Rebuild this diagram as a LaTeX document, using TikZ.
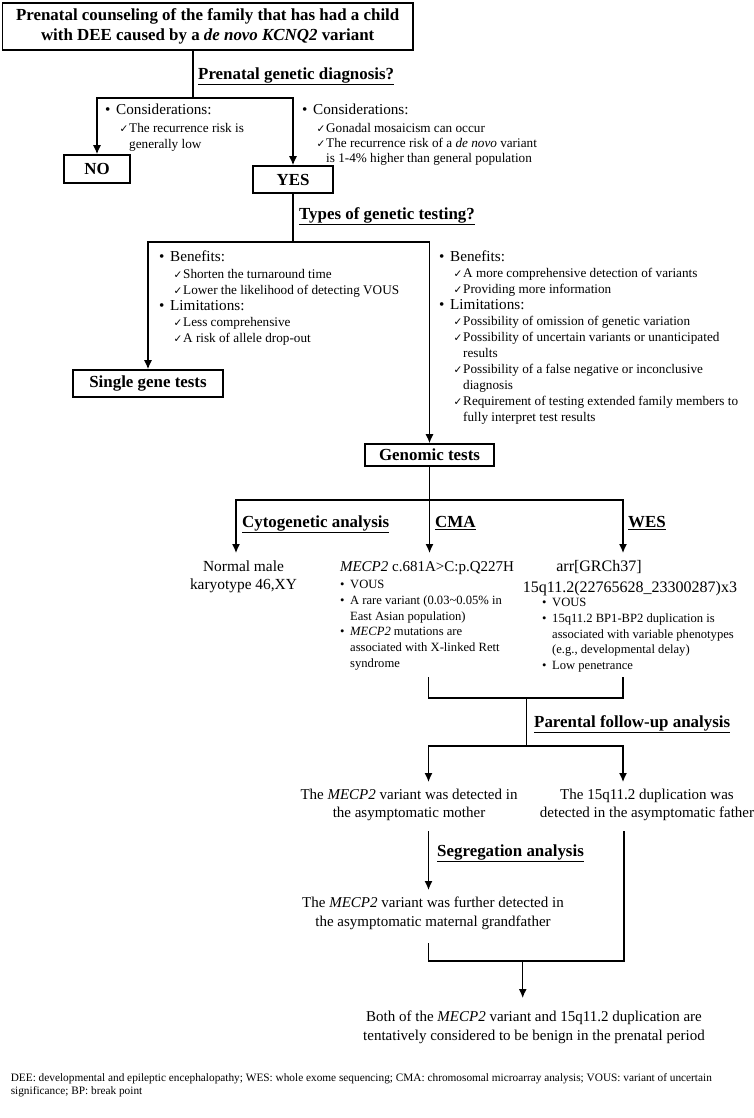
\documentclass[tikz,border=0pt]{standalone}
\usepackage{fontspec}
\setmainfont{Liberation Serif}
\newfontfamily\dejavu{DejaVu Sans}
\usetikzlibrary{arrows.meta}

\newcommand{\ck}{{\dejavu\fontsize{10.5}{10.5}\selectfont ✓}}
\newcommand{\bhead}[1]{{\fontsize{15.2}{16}\selectfont\makebox[11pt][l]{\textbullet}#1}}
\newcommand{\bcheck}[1]{\hspace*{14.5pt}\makebox[9.5pt][l]{\ck}#1}
\newcommand{\ckmore}[1]{\hspace*{24pt}#1}
\newcommand{\bul}[1]{\makebox[10pt][l]{\textbullet}#1}
\newcommand{\bulmore}[1]{\hspace*{10pt}#1}

\tikzset{
  stage/.style={draw, line width=1.6pt, inner sep=0pt, align=center, font=\fontsize{16.9}{20}\selectfont\bfseries},
  heading/.style={anchor=base west, inner sep=0pt, font=\fontsize{16.9}{20}\selectfont\bfseries},
  notes/.style={anchor=north west, inner sep=0pt, align=left, font=\fontsize{13.2}{16}\selectfont},
  finding/.style={anchor=north, inner sep=0pt, align=center, font=\fontsize{15}{18}\selectfont},
  bullets/.style={anchor=north west, inner sep=0pt, align=left, font=\fontsize{12.6}{15.8}\selectfont},
  wire/.style={line width=1.3pt},
  flow/.style={wire, -{Latex[length=9pt,width=8pt]}},
}

\begin{document}
\begin{tikzpicture}[x=1pt,y=1pt]
    \useasboundingbox (0,0) rectangle (754,-1118);

    \node[stage, minimum width=410.6pt, minimum height=47pt] (title) at (207.7,-26.5) {Prenatal counseling of the family that has had a child\\with DEE caused by a \textit{de novo KCNQ2} variant};
    \node[stage, minimum width=66pt, minimum height=28pt] (no) at (97,-169) {NO};
    \node[stage, minimum width=80pt, minimum height=27pt] (yes) at (293,-179.5) {YES};
    \node[stage, minimum width=150pt, minimum height=27pt] (single) at (148,-383.5) {Single gene tests};
    \node[stage, minimum width=129pt, minimum height=22pt] (genomic) at (429.5,-455) {Genomic tests};

    \node[heading] (askdx) at (198,-79.5) {\underline{Prenatal genetic diagnosis?}};
    \node[heading] (asktype) at (299,-219.5) {\underline{Types of genetic testing?}};
    \node[heading] (cyto) at (242,-527.5) {\underline{Cytogenetic analysis}};
    \node[heading] (cma) at (435,-527.5) {\underline{CMA}};
    \node[heading] (wes) at (628,-527.5) {\underline{WES}};
    \node[heading] (parental) at (534,-727.5) {\underline{Parental follow-up analysis}};
    \node[heading] (segregation) at (437,-856.5) {\underline{Segregation analysis}};

    \node[notes] (consno) at (105,-104) {\bhead{Considerations:}\\[2pt]
        \bcheck{The recurrence risk is}\\
        \ckmore{generally low}};
    \node[notes, font=\fontsize{13.2}{15}\selectfont] (consyes) at (302,-104) {\bhead{Considerations:}\\[3pt]
        \bcheck{Gonadal mosaicism can occur}\\
        \bcheck{The recurrence risk of a \textit{de novo} variant}\\
        \ckmore{is 1-4\% higher than general population}};
    \node[notes, font=\fontsize{13.2}{16.2}\selectfont] (bensingle) at (159,-251) {\bhead{Benefits:}\\
        \bcheck{Shorten the turnaround time}\\
        \bcheck{Lower the likelihood of detecting VOUS}\\
        \bhead{Limitations:}\\
        \bcheck{Less comprehensive}\\
        \bcheck{A risk of allele drop-out}};
    \node[notes] (bengenomic) at (439,-251) {\bhead{Benefits:}\\
        \bcheck{A more comprehensive detection of variants}\\
        \bcheck{Providing more information}\\
        \bhead{Limitations:}\\
        \bcheck{Possibility of omission of genetic variation}\\
        \bcheck{Possibility of uncertain variants or unanticipated}\\
        \ckmore{results}\\
        \bcheck{Possibility of a false negative or inconclusive}\\
        \ckmore{diagnosis}\\
        \bcheck{Requirement of testing extended family members to}\\
        \ckmore{fully interpret test results}};

    \node[finding, font=\fontsize{15.4}{18}\selectfont] (karyo) at (243.5,-561) {Normal male\\karyotype 46,XY};
    \node[finding, anchor=base] (mecp) at (427,-571.5) {\textit{MECP2} c.681A>C:p.Q227H};
    \node[bullets] (mecplist) at (340,-580) {\bul{VOUS}\\
        \bul{A rare variant (0.03\textasciitilde0.05\% in}\\
        \bulmore{East Asian population)}\\
        \bul{\textit{MECP2} mutations are}\\
        \bulmore{associated with X-linked Rett}\\
        \bulmore{syndrome}};
    \node[finding, anchor=base, font=\fontsize{16}{18}\selectfont] (arr) at (599,-571.5) {arr[GRCh37]};
    \node[finding, anchor=base, font=\fontsize{16}{18}\selectfont] (dup) at (630,-592.5) {15q11.2(22765628\_23300287)x3};
    \node[bullets] (duplist) at (542,-598) {\bul{VOUS}\\
        \bul{15q11.2 BP1-BP2 duplication is}\\
        \bulmore{associated with variable phenotypes}\\
        \bulmore{(e.g., developmental delay)}\\
        \bul{Low penetrance}};
    \node[finding] (mother) at (409,-789) {The \textit{MECP2} variant was detected in\\the asymptomatic mother};
    \node[finding] (father) at (647,-789) {The 15q11.2 duplication was\\detected in the asymptomatic father};
    \node[finding, font=\fontsize{15}{19}\selectfont] (grandpa) at (433,-897) {The \textit{MECP2} variant was further detected in\\the asymptomatic maternal grandfather};
    \node[finding, font=\fontsize{15}{19}\selectfont] (benign) at (534,-1011) {Both of the \textit{MECP2} variant and 15q11.2 duplication are\\tentatively considered to be benign in the prenatal period};
    \node[anchor=north west, inner sep=0pt, align=left, font=\fontsize{11.3}{13}\selectfont] (abbrev) at (10.6,-1073.6) {DEE: developmental and epileptic encephalopathy; WES: whole exome sequencing; CMA: chromosomal microarray analysis; VOUS: variant of uncertain\\significance; BP: break point};

    \coordinate (q1) at (193,-98);
    \coordinate (q2) at (293,-242);
    \coordinate (q3) at (429.5,-500);
    \coordinate (cytoin) at (236,-553);
    \coordinate (cmain) at (429.5,-553);
    \coordinate (wesin) at (623,-553);
    \coordinate (cmaout) at (428.5,-677);
    \coordinate (wesout) at (623,-677);
    \coordinate (q4) at (526.6,-698);
    \coordinate (q5) at (526.6,-746);
    \coordinate (motherin) at (428.5,-782);
    \coordinate (fatherin) at (623,-782);
    \coordinate (motherout) at (428.5,-831);
    \coordinate (fatherout) at (624,-831);
    \coordinate (grandin) at (428.5,-890);
    \coordinate (grandout) at (428.5,-943);
    \coordinate (q6) at (522.7,-961);
    \coordinate (benignin) at (522.7,-998);

    \draw[wire] (title.south -| q1) -- (q1);
    \draw[flow] (q1) -| (no);
    \draw[flow] (q1) -| (yes);
    \draw[wire] (yes) -- (q2);
    \draw[flow] (q2) -| (single);
    \draw[flow] (q2) -| (genomic);
    \draw[wire] (genomic) -- (q3);
    \draw[flow] (q3) -| (cytoin);
    \draw[flow] (q3) -- (cmain);
    \draw[flow] (q3) -| (wesin);
    \draw[wire] (cmaout) |- (q4) -| (wesout);
    \draw[wire] (q4) -- (q5);
    \draw[flow] (q5) -| (motherin);
    \draw[flow] (q5) -| (fatherin);
    \draw[flow] (motherout) -- (grandin);
    \draw[wire] (grandout) |- (q6) -| (fatherout);
    \draw[flow] (q6) -- (benignin);
\end{tikzpicture}
\end{document}
